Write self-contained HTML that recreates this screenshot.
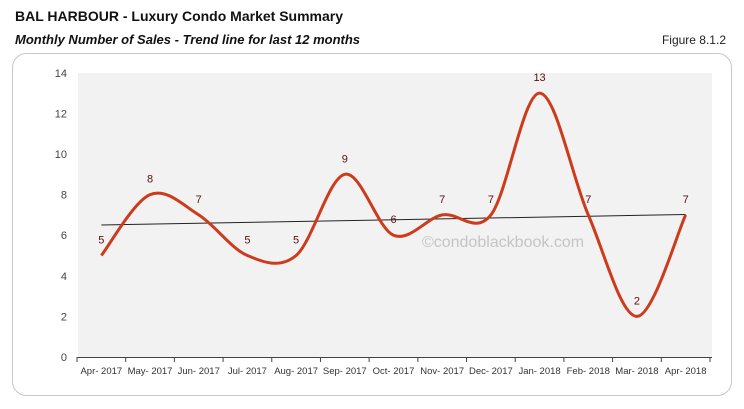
<!DOCTYPE html>
<html><head><meta charset="utf-8"><style>
body{margin:0;width:744px;height:409px;background:#fff;font-family:"Liberation Sans",sans-serif;overflow:hidden;position:relative}
.t{position:absolute;left:15px;top:8px;font-size:14px;font-weight:bold;color:#111}
.s{position:absolute;left:15px;top:32px;font-size:13px;font-weight:bold;font-style:italic;color:#111}
.f{position:absolute;right:18px;top:33px;font-size:12px;color:#222}
</style></head><body>
<div class="t">BAL HARBOUR - Luxury Condo Market Summary</div>
<div class="s">Monthly Number of Sales - Trend line for last 12 months</div>
<div class="f">Figure 8.1.2</div>
<svg id="c" width="744" height="409" style="position:absolute;left:0;top:0" font-family="Liberation Sans, sans-serif"></svg>
<script>
var s=document.getElementById('c'),h='';
h+='<rect x="12.5" y="53.5" width="719" height="342" rx="14" fill="none" stroke="#c8c8c8"/>';
h+='<rect x="78" y="73" width="634" height="284" fill="#f2f2f2"/>';
for(var v=0;v<=14;v+=2){var y=357-v*20.3;h+='<text x="67" y="'+(y+4)+'" text-anchor="end" font-size="11" fill="#444">'+v+'</text>';}
h+='<line x1="77" y1="357.5" x2="712" y2="357.5" stroke="#444"/>';
var L=["Apr- 2017","May- 2017","Jun- 2017","Jul- 2017","Aug- 2017","Sep- 2017","Oct- 2017","Nov- 2017","Dec- 2017","Jan- 2018","Feb- 2018","Mar- 2018","Apr- 2018"];
var w=(710-77)/13;
for(var i=0;i<=13;i++){var x=77+i*w;h+='<line x1="'+x+'" y1="357" x2="'+x+'" y2="362" stroke="#444"/>';}
var d=[5,8,7,5,5,9,6,7,7,13,7,2,7],P=[];
for(var i=0;i<13;i++){var x=77+(i+.5)*w;P.push([x,357-d[i]*20.3]);h+='<text x="'+x+'" y="374" text-anchor="middle" font-size="9.5" fill="#333">'+L[i]+'</text>';}
h+='<text x="503" y="247" text-anchor="middle" font-size="16" fill="#c4c4c4">©condoblackbook.com</text>';
h+='<line x1="'+P[0][0]+'" y1="225" x2="'+P[12][0]+'" y2="214.5" stroke="#222" stroke-width="1"/>';
var p='M'+P[0][0]+','+P[0][1];
for(var i=0;i<12;i++){var a=P[i-1]||P[i],b=P[i],c=P[i+1],e=P[i+2]||c,k=6;
p+=' C'+(b[0]+(c[0]-a[0])/k)+','+(b[1]+(c[1]-a[1])/k)+' '+(c[0]-(e[0]-b[0])/k)+','+(c[1]-(e[1]-b[1])/k)+' '+c[0]+','+c[1];}
h+='<path d="'+p+'" fill="none" stroke="#cc3b1b" stroke-width="3"/>';
for(var i=0;i<13;i++){h+='<text x="'+P[i][0]+'" y="'+(P[i][1]-12)+'" text-anchor="middle" font-size="11" fill="#5a1010">'+d[i]+'</text>';}
s.innerHTML=h;
</script>
</body></html>
